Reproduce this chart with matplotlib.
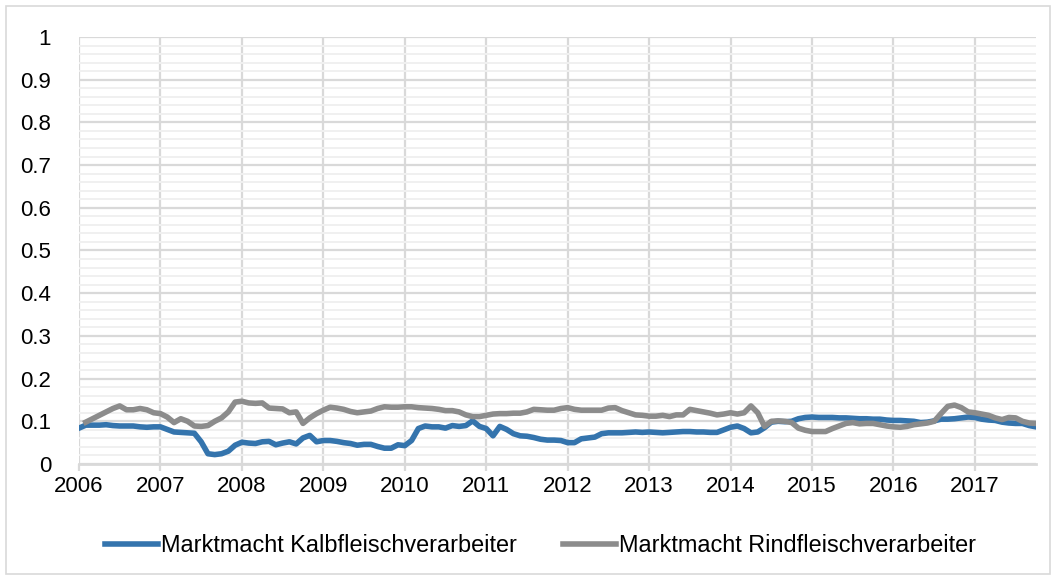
import numpy as np
import matplotlib
matplotlib.use("Agg")
import matplotlib.pyplot as plt
from matplotlib.ticker import MultipleLocator, FuncFormatter
from matplotlib.patches import Rectangle

# monthly estimates, Jan 2006 .. Oct 2017
start_year = 2006
kalb = [
    0.084, 0.091, 0.091, 0.091, 0.092, 0.090, 0.089, 0.089, 0.089, 0.087, 0.086, 0.087,
    0.087, 0.081, 0.075, 0.074, 0.073, 0.072, 0.052, 0.024, 0.022,
    0.024, 0.030, 0.044, 0.051, 0.049, 0.048, 0.052, 0.053, 0.045, 0.049, 0.052, 0.047,
    0.061, 0.067, 0.052, 0.055, 0.055, 0.053, 0.050, 0.048, 0.044,
    0.046, 0.046, 0.041, 0.037, 0.037, 0.045, 0.043, 0.055, 0.083, 0.089, 0.087, 0.087,
    0.084, 0.090, 0.088, 0.090, 0.101, 0.088, 0.083, 0.066,
    0.088, 0.081, 0.071, 0.066, 0.065, 0.062, 0.058, 0.056, 0.056, 0.055, 0.050, 0.050,
    0.059, 0.061, 0.063, 0.071, 0.073, 0.073, 0.073, 0.074, 0.075,
    0.074, 0.075, 0.074, 0.073, 0.074, 0.075, 0.076, 0.076, 0.075, 0.075, 0.074, 0.074,
    0.080, 0.086, 0.089, 0.083, 0.073, 0.075, 0.085, 0.098, 0.100,
    0.099, 0.100, 0.106, 0.109, 0.110, 0.109, 0.109, 0.109, 0.108, 0.108, 0.107, 0.106,
    0.106, 0.105, 0.105, 0.103, 0.102, 0.102, 0.101, 0.100,
    0.097, 0.098, 0.101, 0.105, 0.105, 0.106, 0.108, 0.110, 0.109, 0.105, 0.103, 0.102,
    0.098, 0.096, 0.095, 0.095, 0.090, 0.087,
]
rind = [
    np.nan, 0.098, 0.106, 0.114, 0.122, 0.130, 0.136, 0.127, 0.127, 0.130, 0.127, 0.120,
    0.118, 0.110, 0.097, 0.106, 0.100, 0.089, 0.088, 0.090, 0.100,
    0.108, 0.122, 0.145, 0.147, 0.143, 0.142, 0.143, 0.131, 0.130, 0.129, 0.120, 0.122,
    0.095, 0.108, 0.118, 0.126, 0.133, 0.131, 0.128, 0.123, 0.120,
    0.122, 0.124, 0.130, 0.134, 0.133, 0.133, 0.134, 0.134, 0.132, 0.131, 0.130, 0.128,
    0.125, 0.125, 0.122, 0.115, 0.111, 0.111, 0.114, 0.117,
    0.118, 0.118, 0.119, 0.119, 0.122, 0.128, 0.127, 0.126, 0.126, 0.130, 0.132, 0.128,
    0.126, 0.126, 0.126, 0.126, 0.131, 0.132, 0.125, 0.120, 0.115,
    0.114, 0.112, 0.112, 0.114, 0.111, 0.115, 0.115, 0.128, 0.125, 0.122, 0.119, 0.115,
    0.117, 0.120, 0.117, 0.120, 0.136, 0.120, 0.088, 0.100, 0.101,
    0.100, 0.097, 0.084, 0.079, 0.076, 0.076, 0.076, 0.083, 0.089, 0.095, 0.097, 0.094,
    0.095, 0.095, 0.092, 0.089, 0.087, 0.086, 0.088, 0.092,
    0.094, 0.096, 0.100, 0.118, 0.135, 0.138, 0.132, 0.122, 0.120, 0.117, 0.114, 0.108,
    0.104, 0.109, 0.108, 0.100, 0.096, 0.095,
]
year_ticks = list(range(2006, 2018))
labels = ["Marktmacht Kalbfleischverarbeiter", "Marktmacht Rindfleischverarbeiter"]

x = start_year + np.arange(len(kalb)) / 12.0

plt.rcParams['font.family'] = ['Liberation Sans', 'DejaVu Sans']

fig = plt.figure(figsize=(10.57, 5.79), dpi=100)
ax = fig.add_axes([79 / 1057, 1 - 464 / 579, (1036 - 79) / 1057, (464 - 37) / 579])

grid_c = '#d9d9d9'
ax.plot(x, kalb, color='#3474ad', lw=4.0, solid_joinstyle='round', label=labels[0], zorder=3)
ax.plot(x, rind, color='#8c8c8c', lw=4.0, solid_joinstyle='round', label=labels[1], zorder=3)

ax.set_xlim(2006, x[-1])
ax.set_ylim(0, 1)
ax.set_xticks(year_ticks)
ax.yaxis.set_major_locator(MultipleLocator(0.1))
ax.yaxis.set_minor_locator(MultipleLocator(0.02))
ax.yaxis.set_major_formatter(FuncFormatter(lambda v, p: '%g' % round(v, 1)))

ax.grid(axis='x', color=grid_c, lw=1.6)
ax.grid(axis='y', which='major', color=grid_c, lw=1.6)
ax.grid(axis='y', which='minor', color='#f0f0f0', lw=1.4)
ax.set_axisbelow(True)

for s in ['top', 'right', 'left']:
    ax.spines[s].set_visible(False)
ax.spines['bottom'].set_color(grid_c)
ax.spines['bottom'].set_linewidth(2)

ax.tick_params(axis='x', which='major', length=5, width=1.6, color=grid_c,
               labelsize=16, pad=4)
ax.tick_params(axis='y', which='both', length=0, labelsize=16, pad=20)

fig.legend(loc='center', bbox_to_anchor=(0.511, 1 - 546 / 579), ncol=2, frameon=False,
           handlelength=2.26, handletextpad=0.13, columnspacing=1.96,
           prop={'size': 16.9})

# chart area border
fig.patches.append(Rectangle((6 / 1057, 5 / 579), 1044 / 1057, 568 / 579,
                             transform=fig.transFigure, fill=False,
                             edgecolor=grid_c, lw=1.2))

fig.savefig('out.png', dpi=100)
